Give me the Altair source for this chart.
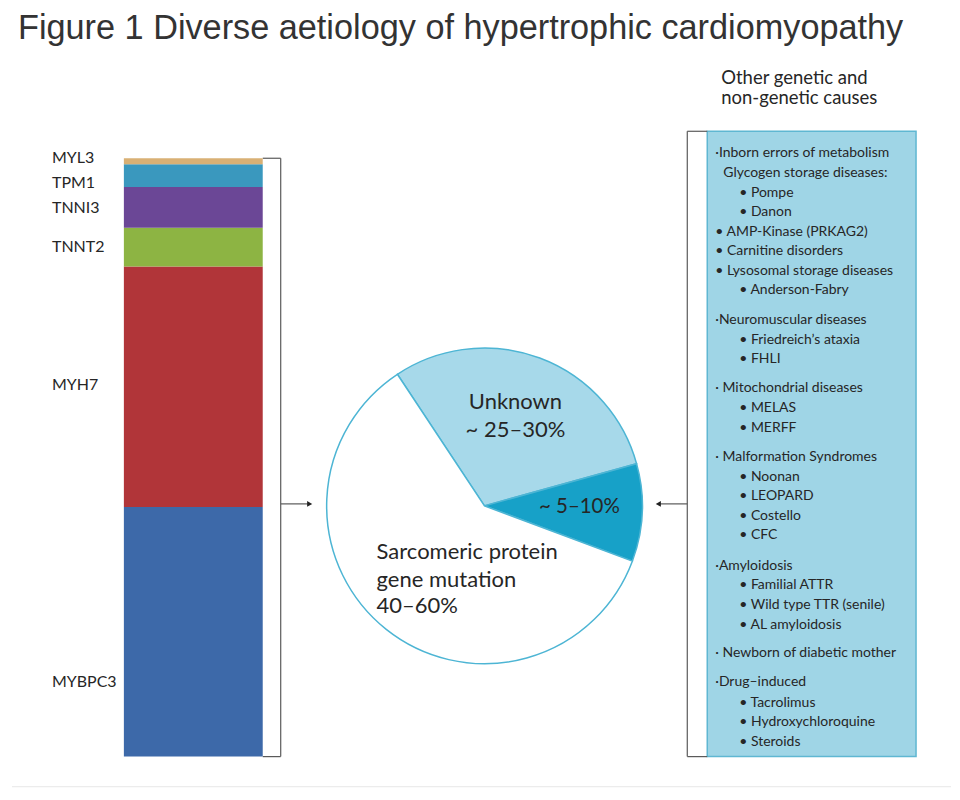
import math
import altair as alt
import pandas as pd

# ---------------- data ----------------
TITLE = "Figure 1 Diverse aetiology of hypertrophic cardiomyopathy"

genes = ["MYBPC3", "MYH7", "TNNT2", "TNNI3", "TPM1", "MYL3"]
gene_share = [41.7, 40.2, 6.5, 6.8, 3.8, 1.0]
gene_colors = ["#3d69a9", "#b13539", "#8db443", "#6b4796", "#3a98be", "#d9b074"]

pie_cats = ["Unknown", "Other genetic and non-genetic causes",
            "Sarcomeric protein gene mutation"]
pie_share = [30, 10, 60]
pie_colors = ["#a7d9ea", "#17a1c8", "#ffffff"]

pie_labels = ["Unknown", "~ 25\u201330%", "~ 5\u201310%",
              "Sarcomeric protein", "gene mutation", "40\u201360%"]

header_lines = ["Other genetic and", "non-genetic causes"]

causes = [
    ("\u00b7Inborn errors of metabolism", 0),
    ("Glycogen storage diseases:", 1),
    ("\u2022 Pompe", 2),
    ("\u2022 Danon", 2),
    ("\u2022 AMP-Kinase (PRKAG2)", 0),
    ("\u2022 Carnitine disorders", 0),
    ("\u2022 Lysosomal storage diseases", 0),
    ("\u2022 Anderson-Fabry", 2),
    ("\u00b7Neuromuscular diseases", 0),
    ("\u2022 Friedreich\u2019s ataxia", 2),
    ("\u2022 FHLI", 2),
    ("\u00b7 Mitochondrial diseases", 0),
    ("\u2022 MELAS", 2),
    ("\u2022 MERFF", 2),
    ("\u00b7 Malformation Syndromes", 0),
    ("\u2022 Noonan", 2),
    ("\u2022 LEOPARD", 2),
    ("\u2022 Costello", 2),
    ("\u2022 CFC", 2),
    ("\u00b7Amyloidosis", 0),
    ("\u2022 Familial ATTR", 2),
    ("\u2022 Wild type TTR (senile)", 2),
    ("\u2022 AL amyloidosis", 2),
    ("\u00b7 Newborn of diabetic mother", 0),
    ("\u00b7Drug\u2013induced", 0),
    ("\u2022 Tacrolimus", 2),
    ("\u2022 Hydroxychloroquine", 2),
    ("\u2022 Steroids", 2),
]

# ---------------- layout (page pixels) ----------------
W, H = 944, 780
OFF = 8
gene_label_y = [682, 385, 247, 208, 183, 158]
cause_y = [153, 173, 193, 212, 232, 251, 271, 290, 320, 340, 359, 388, 408, 428,
           457, 477, 496, 516, 535, 566, 585, 605, 625, 653, 682, 703, 722, 742]
level_x = {0: 716, 1: 724, 2: 740}
pie_label_pos = [(516, 402, "center"), (516, 430, "center"), (580, 507, "center"),
                 (377, 552, "left"), (377, 580, "left"), (377, 606, "left")]
PIE_CX, PIE_CY, PIE_R = 485, 506, 158
BAR_X0, BAR_X1, BAR_TOP, BAR_BOT = 124, 263, 158, 757

XS = alt.Scale(domain=[OFF, OFF + W], range=[0, W], nice=False, zero=False)
YS = alt.Scale(domain=[OFF, OFF + H], range=[0, H], nice=False, zero=False)

FONT = "Lato"
TXT = "#262626"


def px(v):
    return v - OFF


# ---------------- layers ----------------
bar_df = pd.DataFrame({"gene": genes, "share": gene_share,
                       "rank": list(range(len(genes)))})
bar = alt.Chart(bar_df).transform_stack(
    stack="share", as_=["y0", "y1"], groupby=[],
    sort=[alt.SortField("rank", order="ascending")]
).mark_rect().encode(
    x=alt.value(px(BAR_X0)), x2=alt.value(px(BAR_X1)),
    y=alt.Y("y0:Q", axis=None,
            scale=alt.Scale(domain=[0, sum(gene_share)],
                            range=[px(BAR_BOT), px(BAR_TOP)], nice=False,
                            zero=False)),
    y2="y1:Q",
    color=alt.Color("gene:N", scale=alt.Scale(domain=genes, range=gene_colors),
                    legend=None),
)

glab_df = pd.DataFrame({"t": genes, "x": [52] * len(genes), "y": gene_label_y})
glab = alt.Chart(glab_df).mark_text(align="left", baseline="middle", font=FONT,
                                    fontSize=16, color=TXT).encode(
    x=alt.X("x:Q", scale=XS, axis=None), y=alt.Y("y:Q", scale=YS, axis=None),
    text="t:N")

a0 = math.radians(326.5)
pie_df = pd.DataFrame({"cat": pie_cats, "share": pie_share, "ord": [0, 1, 2]})
pie = alt.Chart(pie_df).mark_arc(radius=PIE_R, stroke="#4db5d4",
                                 strokeWidth=1.5).encode(
    theta=alt.Theta("share:Q", stack=True,
                    scale=alt.Scale(domain=[0, sum(pie_share)],
                                    range=[a0, a0 + 2 * math.pi])),
    color=alt.Color("cat:N", scale=alt.Scale(domain=pie_cats, range=pie_colors),
                    legend=None),
    order=alt.Order("ord:Q"),
    x=alt.value(px(PIE_CX)), y=alt.value(px(PIE_CY)),
)


def text_layer(lines, pos, size, align):
    df = pd.DataFrame({"t": lines, "x": [p[0] for p in pos], "y": [p[1] for p in pos]})
    return alt.Chart(df).mark_text(align=align, baseline="middle", font=FONT,
                                   fontSize=size, color=TXT).encode(
        x=alt.X("x:Q", scale=XS, axis=None), y=alt.Y("y:Q", scale=YS, axis=None),
        text="t:N")


pie_c = text_layer([pie_labels[0], pie_labels[1]], pie_label_pos[0:2], 22, "center")
pie_o = text_layer([pie_labels[2]], pie_label_pos[2:3], 20.5, "center")
pie_s = text_layer(pie_labels[3:], pie_label_pos[3:], 22, "left")

header = text_layer(header_lines, [(722, 78), (722, 98)], 18.5, "left")

cause_t = text_layer([c[0] for c in causes],
                     [(level_x[c[1]], y) for c, y in zip(causes, cause_y)],
                     14, "left")

title_df = pd.DataFrame({"t": [TITLE], "x": [18], "y": [39]})
title = alt.Chart(title_df).mark_text(align="left", baseline="alphabetic",
                                      font="Liberation Sans", fontSize=34.3,
                                      color="#333333").encode(
    x=alt.X("x:Q", scale=XS, axis=None), y=alt.Y("y:Q", scale=YS, axis=None),
    text="t:N")

one = pd.DataFrame({"a": [0]})
box = alt.Chart(one).mark_rect(fill="#9fd5e6", stroke="#5fb7d2",
                               strokeWidth=1.5).encode(
    x=alt.value(px(708)), x2=alt.value(px(917)),
    y=alt.value(px(131)), y2=alt.value(px(757)))

segs = pd.DataFrame({
    "x":  [BAR_X1, 281, BAR_X1, 281, 688, 688, 688, 660, 12],
    "x2": [281, 281, 281, 308, 708, 688, 708, 688, 952],
    "y":  [158, 158, 757, 504, 131, 131, 757, 504, 787],
    "y2": [158, 757, 757, 504, 131, 757, 757, 504, 787],
    "c":  ["k", "k", "k", "k", "k", "k", "k", "k", "g"],
})
lines = alt.Chart(segs).mark_rule(strokeWidth=1.2).encode(
    x=alt.X("x:Q", scale=XS, axis=None), x2="x2:Q",
    y=alt.Y("y:Q", scale=YS, axis=None), y2="y2:Q",
    color=alt.Color("c:N", scale=alt.Scale(domain=["k", "g"],
                                           range=["#5a5a5a", "#ececec"]),
                    legend=None))

arr_r = alt.Chart(one).mark_point(shape="triangle-right", filled=True, size=35,
                                  color="#222222", opacity=1).encode(
    x=alt.value(px(310)), y=alt.value(px(504)))
arr_l = alt.Chart(one).mark_point(shape="triangle-left", filled=True, size=35,
                                  color="#222222", opacity=1).encode(
    x=alt.value(px(659)), y=alt.value(px(504)))

chart = alt.layer(
    box, lines, arr_r, arr_l, bar, glab, pie, pie_c, pie_o, pie_s,
    header, cause_t, title
).resolve_scale(
    x="independent", y="independent", color="independent"
).properties(
    width=W, height=H, padding=0, background="white"
).configure_view(stroke=None)

chart.save("out.html", embed_options={"renderer": "svg", "actions": False})
